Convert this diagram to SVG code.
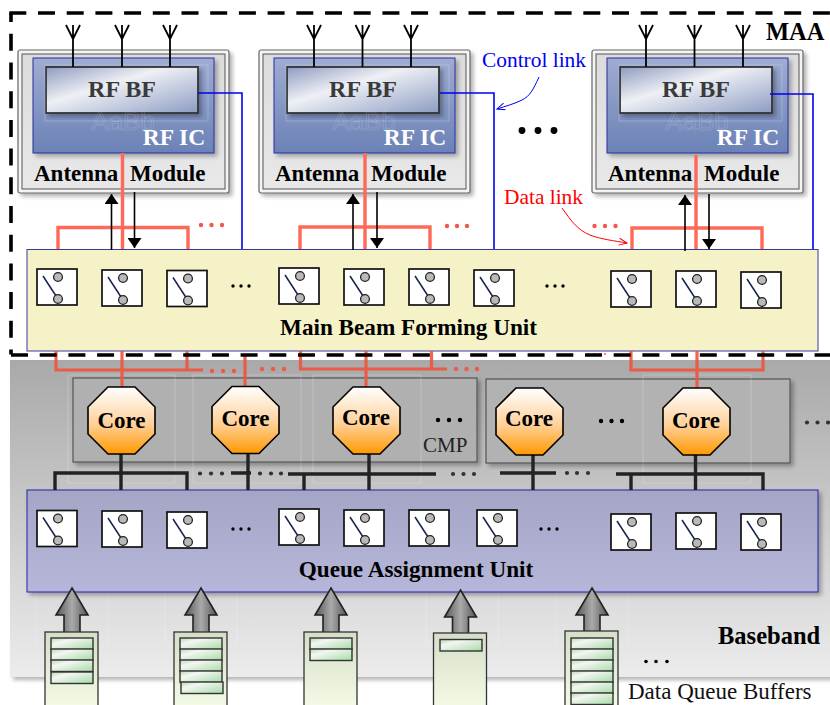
<svg xmlns="http://www.w3.org/2000/svg" xmlns:xlink="http://www.w3.org/1999/xlink" width="830" height="705" viewBox="0 0 830 705">
<style>
text{font-family:"Liberation Serif","Times New Roman",serif}
.dash{fill:none;stroke:#000;stroke-width:3.6;stroke-dasharray:17 11.7}
.red{fill:none;stroke:#f0533c;stroke-width:3.2;opacity:.9}
.redu{fill:none;stroke:#ff6a58;stroke-width:3.4}
.blue{fill:none;stroke:#0000f0;stroke-width:1.6}
.blk{fill:none;stroke:#222;stroke-width:3.4}
.ant{fill:none;stroke:#000;stroke-width:1.8}
.arr{fill:none;stroke:#000;stroke-width:1.6}
.ghost{fill:none;stroke:#fff;stroke-opacity:.28;stroke-width:.8}
.rd{fill:#f4564a}.kd{fill:#000}.gd{fill:#333}
.t{font-weight:bold;font-size:23px}
</style>
<defs>
<linearGradient id="gBase" x1="0" y1="0" x2="0" y2="1"><stop offset="0" stop-color="#a9a9a9"/><stop offset="1" stop-color="#ececec"/></linearGradient>
<linearGradient id="gMod" x1="0" y1="0" x2="0" y2="1"><stop offset="0" stop-color="#dcdcdc"/><stop offset="1" stop-color="#e8e8e8"/></linearGradient>
<linearGradient id="gIC" x1="0" y1="0" x2="0" y2="1"><stop offset="0" stop-color="#9facd2"/><stop offset="1" stop-color="#6b82b6"/></linearGradient>
<linearGradient id="gBF" x1="0" y1="0" x2="1" y2="1"><stop offset="0" stop-color="#8f9cc0"/><stop offset=".4" stop-color="#eef0f5"/><stop offset="1" stop-color="#8c9cc2"/></linearGradient>
<linearGradient id="gCore" x1="0" y1="0" x2="0" y2="1"><stop offset="0" stop-color="#fff"/><stop offset=".55" stop-color="#ffd19a"/><stop offset="1" stop-color="#ff9800"/></linearGradient>
<linearGradient id="gQ" x1="0" y1="0" x2="0" y2="1"><stop offset="0" stop-color="#a5a6c6"/><stop offset="1" stop-color="#b5b6d9"/></linearGradient>
<linearGradient id="gArr" x1="0" y1="0" x2="1" y2="0"><stop offset="0" stop-color="#555"/><stop offset=".5" stop-color="#aaa"/><stop offset="1" stop-color="#555"/></linearGradient>
<linearGradient id="gBuf" x1="0" y1="0" x2="0" y2="1"><stop offset="0" stop-color="#d6dec8"/><stop offset="1" stop-color="#f5fde9"/></linearGradient>
<linearGradient id="gBar" x1="0" y1="0" x2="1" y2="1"><stop offset="0" stop-color="#b9d8b4"/><stop offset=".3" stop-color="#f4f6f2"/><stop offset="1" stop-color="#a6dba6"/></linearGradient>
<filter id="sh" x="-10%" y="-10%" width="125%" height="125%"><feGaussianBlur in="SourceAlpha" stdDeviation="2"/><feOffset dx="3" dy="3"/><feComponentTransfer><feFuncA type="linear" slope=".3"/></feComponentTransfer><feMerge><feMergeNode/><feMergeNode in="SourceGraphic"/></feMerge></filter>
<marker id="aT" viewBox="0 0 10 10" markerWidth="10" markerHeight="14" refX="10" refY="5" orient="auto" markerUnits="userSpaceOnUse" preserveAspectRatio="none"><path d="M0 0L10 5L0 10Z" fill="#000"/></marker>
<marker id="oB" markerWidth="10" markerHeight="10" refX="9" refY="4" orient="auto" markerUnits="userSpaceOnUse"><path d="M1 0.5L9 4L1 7.5" fill="none" stroke="#0000f0"/></marker>
<marker id="oR" markerWidth="10" markerHeight="10" refX="9" refY="4" orient="auto" markerUnits="userSpaceOnUse"><path d="M1 0.5L9 4L1 7.5" fill="none" stroke="#f00"/></marker>
<g id="sw"><rect x="0" y="0" width="40" height="36" fill="#fff" stroke="#111" stroke-width="1.7"/><line x1="6" y1="7" x2="21" y2="30" stroke="#14224e" stroke-width="1.5"/><circle cx="21" cy="8" r="4.4" fill="#b9b9b9" stroke="#222" stroke-width="1.3"/><circle cx="21" cy="30" r="4.4" fill="#b9b9b9" stroke="#222" stroke-width="1.3"/></g>
<g id="fork"><path d="M-7 0L0 14L7 0M0 0V42" class="ant"/></g>
<g id="modbody">
<rect x="0" y="0" width="211" height="143" rx="2" fill="#f4f4f4" stroke="#666" stroke-width="1.2" filter="url(#sh)"/>
<rect x="4" y="4" width="203" height="135" fill="url(#gMod)" stroke="#555" stroke-width="1"/>
<rect x="15" y="8" width="181" height="95" fill="url(#gIC)" stroke="#2a2fa0" stroke-width="1" filter="url(#sh)"/>
<rect x="28" y="17" width="152" height="46" fill="url(#gBF)" stroke="#333" stroke-width="1.8" filter="url(#sh)"/>
<rect x="27" y="15" width="163" height="56" class="ghost"/>
<text x="105" y="80" font-size="26" text-anchor="middle" font-family="Liberation Sans" style="font-family:'Liberation Sans',sans-serif" fill="none" stroke="#fff" stroke-opacity=".22" stroke-width=".6">AaBb</text>
<text x="104" y="47" class="t" style="font-size:24px" fill="#3a3a3a" text-anchor="middle">RF BF</text>
<text x="156" y="95" class="t" style="font-size:23.5px" fill="#fff" text-anchor="middle">RF IC</text>
<text x="16" y="131" class="t" fill="#000">Antenna</text>
<text x="112" y="131" class="t" fill="#000">Module</text>
</g>
<path id="oct" d="M20 0H47L67 20V47L47 67H20L0 47V20Z" fill="url(#gCore)" stroke="#000" stroke-width="1.6"/>
<path id="qarr" d="M0 0L16 27H8V45H-8V27H-16Z" fill="url(#gArr)" stroke="#222" stroke-width="1.6"/>
<g id="buf"><rect x="0" y="0" width="53" height="80" fill="url(#gBuf)" stroke="#333" stroke-width="1.3"/></g>
<rect id="bar" x="0" y="0" width="42" height="11.5" fill="url(#gBar)" stroke="#333" stroke-width="1.4"/>
</defs>

<rect id="baseband-bg" x="10" y="360" width="825" height="317" fill="url(#gBase)" filter="url(#sh)"/>

<g id="cmp-1"><rect x="73" y="378" width="404" height="84" fill="#b0b0b0" stroke="#555" stroke-width="1.2" filter="url(#sh)"/><text x="423" y="452" font-size="21" fill="#222">CMP</text></g>
<g id="cmp-2"><rect x="486" y="379" width="304" height="84" fill="#b2b2b2" stroke="#555" stroke-width="1.2" filter="url(#sh)"/></g>
<g id="ghosts" class="ghost"><rect x="68" y="375" width="107" height="108"/><rect x="193" y="375" width="108" height="108"/><rect x="313" y="375" width="108" height="108"/><rect x="643" y="375" width="108" height="108"/><rect x="36" y="573" width="72" height="72"/><rect x="165" y="573" width="72" height="72"/><rect x="426" y="573" width="72" height="72"/><rect x="556" y="572" width="72" height="72"/></g>

<g id="module-1"><use xlink:href="#modbody" href="#modbody" x="18" y="50"/></g>
<g id="module-2"><use xlink:href="#modbody" href="#modbody" x="259" y="50"/></g>
<g id="module-3"><use xlink:href="#modbody" href="#modbody" x="592" y="50"/></g>

<g id="main-beam-forming-unit"><rect x="27" y="249.500" width="791" height="101.500" fill="#f6f2c8" stroke="#3a3aa0" stroke-width="1"/>
<text x="408.500" y="335" class="t" text-anchor="middle" style="font-size:23.2px">Main Beam Forming Unit</text></g>
<g id="queue-assignment-unit"><rect x="27" y="490" width="791" height="102" fill="url(#gQ)" stroke="#2222a8" stroke-width="1" filter="url(#sh)"/>
<text x="416" y="577" class="t" text-anchor="middle" style="font-size:23.2px">Queue Assignment Unit</text></g>

<g id="connectors">
<use xlink:href="#fork" href="#fork" x="73" y="25"/><use xlink:href="#fork" href="#fork" x="122" y="25"/><use xlink:href="#fork" href="#fork" x="170" y="25"/>
<use xlink:href="#fork" href="#fork" x="314" y="25"/><use xlink:href="#fork" href="#fork" x="362.500" y="25"/><use xlink:href="#fork" href="#fork" x="411" y="25"/>
<use xlink:href="#fork" href="#fork" x="646" y="25"/><use xlink:href="#fork" href="#fork" x="694.500" y="25"/><use xlink:href="#fork" href="#fork" x="743" y="25"/>
<path class="blue" d="M198 93H242V249M440 93H494V249M770 94H813V249"/>
<path class="blue" style="stroke-width:1" d="M539 77C533 90 530 96 522 100C514 104 506 106 497 109" marker-end="url(#oB)"/>
<path d="M562 208C570 219 577 230 590 235C600 239 615 241 627 243" fill="none" stroke="#f00" stroke-width="1" marker-end="url(#oR)"/>
<path class="redu" d="M58 249V227.500H188V249M122.500 153V249M300 249V227H430V249M365 153V249M632 249V228H762V249M696 155V249"/>
<path class="arr" d="M111.500 250V194" marker-end="url(#aT)"/><path class="arr" d="M134.500 192V248" marker-end="url(#aT)"/>
<path class="arr" d="M353 250V194" marker-end="url(#aT)"/><path class="arr" d="M377 192V248" marker-end="url(#aT)"/>
<path class="arr" d="M685 251V195" marker-end="url(#aT)"/><path class="arr" d="M709 194V249" marker-end="url(#aT)"/>
<path class="red" d="M56 351V370H203M122 351V387M187 351V370M245 355V387M300.500 351V369H447M366 351V387M431.500 351V369M631 351V370H763V351M697 351V388"/>
<path class="blk" d="M55 490V473H187V490M121 454V490M231 473H251M248 454V490M288 474H436M304 474V490M369 454V490M500 473H556M533 455V490M616 474H763V490M631 474V490M695.500 455V490"/>
</g>

<g id="core-1"><use xlink:href="#oct" href="#oct" x="88" y="387"/><text x="121.500" y="428" class="t" text-anchor="middle">Core</text></g>
<g id="core-2"><use xlink:href="#oct" href="#oct" x="212" y="386.500"/><text x="245.500" y="426" class="t" text-anchor="middle">Core</text></g>
<g id="core-3"><use xlink:href="#oct" href="#oct" x="333" y="387"/><text x="366" y="425" class="t" text-anchor="middle">Core</text></g>
<g id="core-4"><use xlink:href="#oct" href="#oct" x="496" y="388"/><text x="529" y="426" class="t" text-anchor="middle">Core</text></g>
<g id="core-5"><use xlink:href="#oct" href="#oct" x="663" y="388"/><text x="696" y="428" class="t" text-anchor="middle">Core</text></g>

<g id="switches-main">
<use xlink:href="#sw" href="#sw" x="37" y="269"/><use xlink:href="#sw" href="#sw" x="102" y="270"/><use xlink:href="#sw" href="#sw" x="167" y="270.500"/><use xlink:href="#sw" href="#sw" x="279" y="268"/><use xlink:href="#sw" href="#sw" x="344" y="269"/><use xlink:href="#sw" href="#sw" x="409" y="269"/><use xlink:href="#sw" href="#sw" x="474" y="270"/><use xlink:href="#sw" href="#sw" x="611" y="271"/><use xlink:href="#sw" href="#sw" x="676" y="271"/><use xlink:href="#sw" href="#sw" x="741" y="272"/>
</g>
<g id="switches-queue">
<use xlink:href="#sw" href="#sw" x="37" y="510.500"/><use xlink:href="#sw" href="#sw" x="102" y="511"/><use xlink:href="#sw" href="#sw" x="167" y="512"/><use xlink:href="#sw" href="#sw" x="279" y="509"/><use xlink:href="#sw" href="#sw" x="344" y="510"/><use xlink:href="#sw" href="#sw" x="409" y="510"/><use xlink:href="#sw" href="#sw" x="477" y="510"/><use xlink:href="#sw" href="#sw" x="611" y="514"/><use xlink:href="#sw" href="#sw" x="676" y="513"/><use xlink:href="#sw" href="#sw" x="741" y="514"/>
</g>

<g id="dots">
<g class="kd"><circle cx="522" cy="130.500" r="3.4"/><circle cx="538" cy="130.500" r="3.4"/><circle cx="554" cy="130.500" r="3.4"/>
<circle cx="233" cy="286" r="1.7"/><circle cx="241" cy="286" r="1.7"/><circle cx="249" cy="286" r="1.7"/><circle cx="547" cy="286" r="1.7"/><circle cx="555" cy="286" r="1.7"/><circle cx="563" cy="286" r="1.7"/>
<circle cx="233" cy="529" r="1.7"/><circle cx="241" cy="529" r="1.7"/><circle cx="249" cy="529" r="1.7"/><circle cx="541" cy="529" r="1.7"/><circle cx="549" cy="529" r="1.7"/><circle cx="557" cy="529" r="1.7"/>
<circle cx="438" cy="420" r="2.2"/><circle cx="449" cy="420" r="2.2"/><circle cx="460" cy="420" r="2.2"/><circle cx="601" cy="421" r="2.2"/><circle cx="611.500" cy="421" r="2.2"/><circle cx="622" cy="421" r="2.2"/>
<circle cx="646" cy="661.500" r="1.8"/><circle cx="656" cy="661.500" r="1.8"/><circle cx="667" cy="661.500" r="1.8"/></g>
<g class="rd"><circle cx="201" cy="225" r="2.2"/><circle cx="211.500" cy="225" r="2.2"/><circle cx="222" cy="225" r="2.2"/><circle cx="447" cy="226" r="2.2"/><circle cx="457" cy="226" r="2.2"/><circle cx="467" cy="226" r="2.2"/><circle cx="594.500" cy="226" r="2.2"/><circle cx="605" cy="226" r="2.2"/><circle cx="615.500" cy="226" r="2.2"/>
<circle cx="212" cy="371" r="2.2"/><circle cx="223" cy="371" r="2.2"/><circle cx="234" cy="371" r="2.2"/><circle cx="262" cy="369" r="2.2"/><circle cx="273" cy="369" r="2.2"/><circle cx="284" cy="369" r="2.2"/><circle cx="456" cy="369" r="2.2"/><circle cx="466.500" cy="369" r="2.2"/><circle cx="477" cy="369" r="2.2"/><circle cx="595" cy="354" r="1"/><circle cx="600" cy="354" r="1"/><circle cx="605" cy="354" r="1"/></g>
<g class="gd"><circle cx="200" cy="473.500" r="2.1"/><circle cx="211" cy="473.500" r="2.1"/><circle cx="222" cy="473.500" r="2.1"/><circle cx="260" cy="473.500" r="2.1"/><circle cx="271" cy="473.500" r="2.1"/><circle cx="281" cy="473.500" r="2.1"/><circle cx="453" cy="474" r="2.1"/><circle cx="463.500" cy="474" r="2.1"/><circle cx="474" cy="474" r="2.1"/><circle cx="567" cy="473" r="2.1"/><circle cx="577" cy="473" r="2.1"/><circle cx="588" cy="473" r="2.1"/><circle cx="807" cy="422.500" r="2.1"/><circle cx="817.500" cy="422.500" r="2.1"/><circle cx="828" cy="422.500" r="2.1"/></g>
</g>

<g id="queue-1"><use xlink:href="#qarr" href="#qarr" x="72" y="588"/><use xlink:href="#buf" href="#buf" x="45" y="632"/><use xlink:href="#bar" href="#bar" x="51" y="638"/><use xlink:href="#bar" href="#bar" x="51" y="649"/><use xlink:href="#bar" href="#bar" x="51" y="660"/><use xlink:href="#bar" href="#bar" x="51" y="672"/></g>
<g id="queue-2"><use xlink:href="#qarr" href="#qarr" x="201" y="588"/><use xlink:href="#buf" href="#buf" x="174" y="632"/><use xlink:href="#bar" href="#bar" x="180" y="638"/><use xlink:href="#bar" href="#bar" x="180" y="649"/><use xlink:href="#bar" href="#bar" x="180" y="660"/><use xlink:href="#bar" href="#bar" x="180" y="671"/><use xlink:href="#bar" href="#bar" x="181" y="682"/></g>
<g id="queue-3"><use xlink:href="#qarr" href="#qarr" x="331" y="588"/><use xlink:href="#buf" href="#buf" x="304" y="632"/><use xlink:href="#bar" href="#bar" x="310" y="638"/><use xlink:href="#bar" href="#bar" x="310" y="649"/></g>
<g id="queue-4"><use xlink:href="#qarr" href="#qarr" x="460.500" y="590"/><use xlink:href="#buf" href="#buf" x="433.500" y="633"/><use xlink:href="#bar" href="#bar" x="440" y="639.500"/></g>
<g id="queue-5"><use xlink:href="#qarr" href="#qarr" x="592" y="588"/><use xlink:href="#buf" href="#buf" x="565" y="631"/><use xlink:href="#bar" href="#bar" x="571" y="638"/><use xlink:href="#bar" href="#bar" x="571" y="649"/><use xlink:href="#bar" href="#bar" x="571" y="660"/><use xlink:href="#bar" href="#bar" x="571" y="671"/><use xlink:href="#bar" href="#bar" x="571" y="682"/><use xlink:href="#bar" href="#bar" x="571" y="693"/></g>

<g id="maa-boundary"><path class="dash" d="M9.300 13H830"/><path class="dash" d="M11 354.500V13" stroke-dashoffset="12"/><path class="dash" d="M11 355H830"/></g>

<g id="labels">
<text x="766" y="40" class="t" style="font-size:24.500px" fill="#000">MAA</text>
<text x="482" y="67" font-size="21.400" fill="#0000f0">Control link</text>
<text x="504" y="204" font-size="21.400" fill="#f00">Data link</text>
<text x="718" y="644" class="t" style="font-size:24.500px" fill="#000">Baseband</text>
<text x="628" y="699" font-size="23" fill="#111">Data Queue Buffers</text>
</g>
</svg>
